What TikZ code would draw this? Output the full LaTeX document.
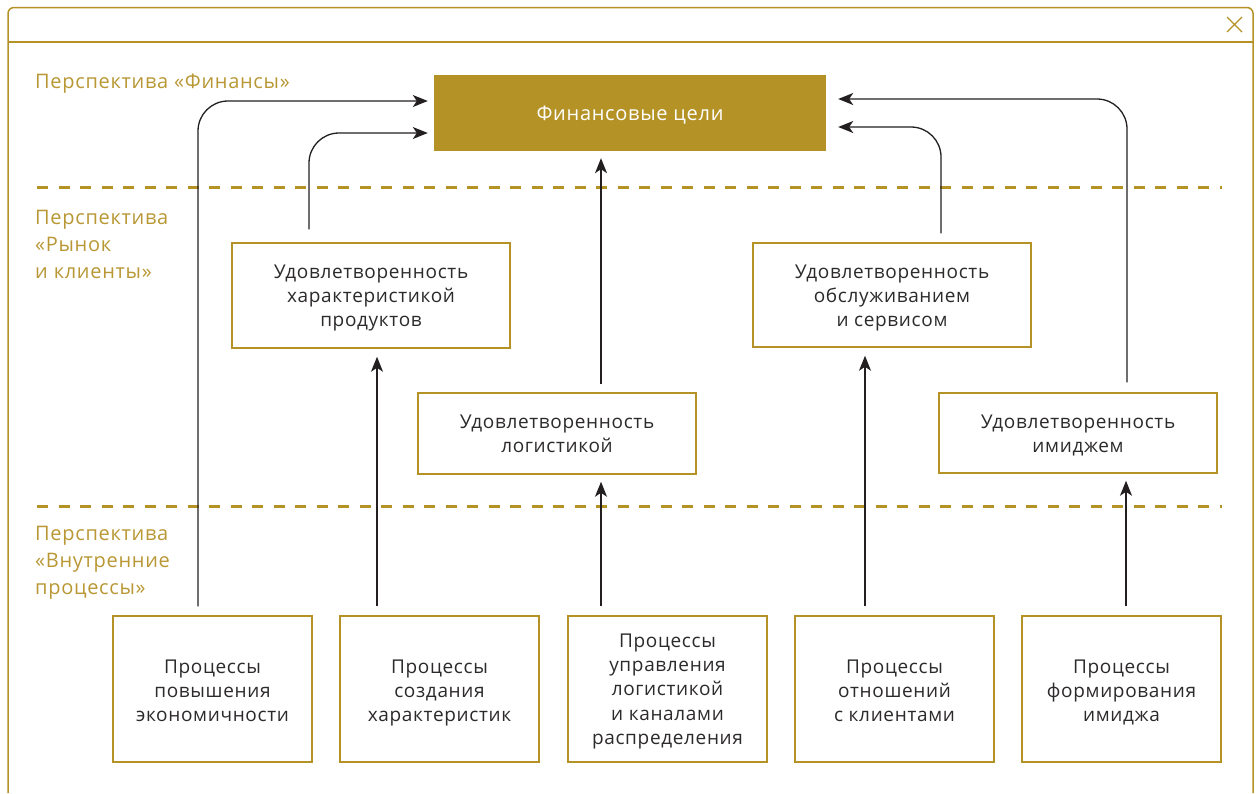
\documentclass[tikz,border=0pt]{standalone}
\usepackage{fontspec}
\setmainfont{Open Sans}[LetterSpace=3.5]
\usetikzlibrary{arrows.meta,calc}
\definecolor{gold}{RGB}{180,146,38}
\definecolor{goldtext}{RGB}{184,151,52}
\definecolor{ink}{RGB}{35,31,32}
\definecolor{boxtext}{RGB}{45,42,42}
\tikzset{
  frame/.style={draw=gold,line width=1.5pt},
  sbox/.style={draw=gold,line width=1.5pt,fill=white,align=center,text=boxtext,
    font=\fontsize{19}{24.3}\selectfont,inner sep=0pt,text depth=0pt},
  finbox/.style={fill=gold,text=white,align=center,inner sep=0pt,
    font=\fontsize{20}{24.5}\selectfont,text depth=0pt},
  persp/.style={anchor=base west,align=left,text=goldtext,inner sep=0pt,
    font=\fontsize{20}{27}\selectfont},
  sep/.style={draw=gold,line width=3pt,dash pattern=on 11pt off 10.5pt},
  arr/.style={draw=ink,line width=1.3pt,-{Stealth[length=15pt,width=12pt,inset=4pt]}},
}
\begin{document}
\begin{tikzpicture}[x=1pt,y=-1pt]
\useasboundingbox (0,0) rectangle (1257,793);
% window frame
\draw[frame,rounded corners=6pt] (8,793) -- (8,7.5) -- (1253,7.5) -- (1253,793);
\draw[frame] (8,42) -- (1253,42);
\draw[draw=gold,line width=1.2pt] (1227,17) -- (1242,32) (1242,17) -- (1227,32);
% separators
\draw[sep] (37,187) -- (1222,187);
\draw[sep] (37,506) -- (1222,506);
% perspective labels (anchored at the baseline of their last line)
\node[persp] (l1) at (35,88) {Перспектива «Финансы»};
\node[persp] (l2) at (35,278) {Перспектива\\«Рынок\\и клиенты»};
\node[persp] (l3) at (35,594) {Перспектива\\«Внутренние\\процессы»};
% nodes (text height places the last baseline relative to the box centre)
\node[finbox,minimum width=392pt,minimum height=76pt,text height=14pt] (fin) at (630,113) {Финансовые цели};
\node[sbox,minimum width=278pt,minimum height=105pt,text height=62.4pt] (s1) at (371,295.5) {Удовлетворенность\\характеристикой\\продуктов};
\node[sbox,minimum width=278pt,minimum height=104pt,text height=63.4pt] (s2) at (892,295) {Удовлетворенность\\обслуживанием\\и сервисом};
\node[sbox,minimum width=278pt,minimum height=81pt,text height=38.4pt] (s3) at (557,433.5) {Удовлетворенность\\логистикой};
\node[sbox,minimum width=278pt,minimum height=80pt,text height=39pt] (s4) at (1078,433) {Удовлетворенность\\имиджем};
\node[sbox,minimum width=199pt,minimum height=146pt,text height=65.4pt] (p1) at (212.5,689) {Процессы\\повышения\\экономичности};
\node[sbox,minimum width=199pt,minimum height=146pt,text height=65.4pt] (p2) at (439.5,689) {Процессы\\создания\\характеристик};
\node[sbox,minimum width=199pt,minimum height=146pt,text height=111pt] (p3) at (667.5,689) {Процессы\\управления\\логистикой\\и каналами\\распределения};
\node[sbox,minimum width=199pt,minimum height=146pt,text height=65.4pt] (p4) at (894.5,689) {Процессы\\отношений\\с клиентами};
\node[sbox,minimum width=199pt,minimum height=146pt,text height=65.4pt] (p5) at (1121.5,689) {Процессы\\формирования\\имиджа};
% x positions of connectors
\coordinate (c198) at (198,0);
\coordinate (c309) at (309,0);
\coordinate (c377) at (377,0);
\coordinate (c601) at (601,0);
\coordinate (c865) at (865,0);
\coordinate (c941) at (941,0);
\coordinate (c1126) at (1126,0);
\coordinate (c1127) at (1127,0);
% connectors
\draw[arr,rounded corners=30pt,shorten <=9pt,shorten >=6pt] (p1.north -| c198) |- ($(fin.west)+(0,-12)$);
\draw[arr,rounded corners=30pt,shorten <=13pt,shorten >=6pt] (s1.north -| c309) |- ($(fin.west)+(0,20)$);
\draw[arr,shorten <=8pt,shorten >=7pt] (s3.north -| c601) -- (fin.south -| c601);
\draw[arr,rounded corners=30pt,shorten <=9pt,shorten >=12pt] (s2.north -| c941) |- ($(fin.east)+(0,14)$);
\draw[arr,rounded corners=30pt,shorten <=10pt,shorten >=12pt] (s4.north -| c1127) |- ($(fin.east)+(0,-14)$);
\draw[arr,shorten <=9pt,shorten >=8pt] (p2.north -| c377) -- (s1.south -| c377);
\draw[arr,shorten <=9pt,shorten >=7pt] (p3.north -| c601) -- (s3.south -| c601);
\draw[arr,shorten <=9pt,shorten >=8pt] (p4.north -| c865) -- (s2.south -| c865);
\draw[arr,shorten <=9pt,shorten >=7pt] (p5.north -| c1126) -- (s4.south -| c1126);
\end{tikzpicture}
\end{document}
